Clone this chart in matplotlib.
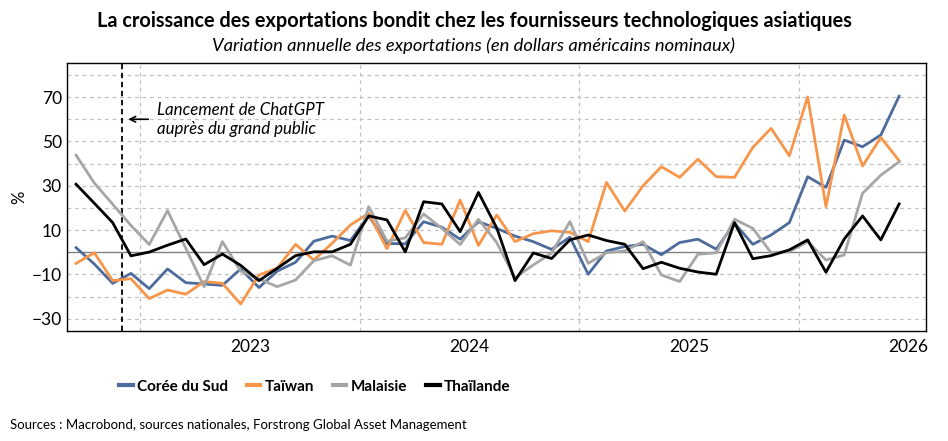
import matplotlib
matplotlib.use("Agg")
import matplotlib.pyplot as plt
import numpy as np

# monthly y/y export growth, % (46 months)
coree = [2.1, -5.3, -14.0, -9.5, -16.4, -7.5, -13.7, -14.3, -14.9, -7.5,
         -15.9, -8.5, -4.5, 5.0, 7.3, 5.3, 16.5, 4.0, 3.8, 13.8,
         11.3, 5.9, 13.8, 10.8, 7.3, 4.8, 1.3, 6.8, -9.9, 0.6,
         2.6, 3.6, -1.1, 4.4, 5.9, 1.4, 13.1, 3.6, 7.8, 13.4,
         34.1, 29.3, 50.6, 47.6, 52.9, 70.4]
taiwan = [-5.0, -0.2, -12.8, -11.9, -20.9, -17.0, -18.9, -13.2, -14.0, -23.3,
          -10.2, -7.2, 3.6, -3.5, 4.1, 12.3, 17.6, 1.6, 18.9, 4.4,
          3.6, 23.6, 3.1, 16.8, 4.8, 8.4, 9.7, 9.0, 4.8, 31.5,
          18.6, 30.0, 38.6, 33.8, 42.0, 34.1, 33.8, 47.3, 55.9, 43.5,
          70.1, 20.6, 61.9, 38.9, 51.8, 41.3]
malaisie = [43.8, 31.2, 21.7, 12.1, 3.5, 18.8, 1.8, -15.5, 4.8, -8.5,
            -12.0, -15.5, -12.5, -3.8, -1.6, -5.8, 20.6, 5.0, 6.5, 17.3,
            10.8, 3.5, 14.9, 4.4, -11.5, -5.7, -0.3, 13.8, -5.0, -0.2,
            0.6, 4.8, -10.2, -13.2, -0.9, -0.2, 14.9, 10.8, -0.2, 0.3,
            4.8, -3.5, -1.2, 26.6, 34.8, 40.8]
thailande = [30.7, 22.1, 13.4, -1.6, 0.1, 3.2, 6.0, -5.6, -0.8, -5.9,
             -12.8, -7.2, -1.5, 0.2, 0.2, 3.6, 16.4, 14.6, 0.2, 22.8,
             21.8, 9.3, 27.0, 11.0, -12.8, -0.3, -2.8, 5.6, 7.8, 5.3,
             3.6, -7.4, -4.5, -7.2, -8.9, -9.9, 13.4, -2.9, -1.5, 1.1,
             5.6, -9.0, 6.0, 16.4, 5.6, 21.8]

series = [("Corée du Sud", coree, "#4d6b9c"),
          ("Taïwan", taiwan, "#f7964b"),
          ("Malaisie", malaisie, "#a6a6a6"),
          ("Thaïlande", thailande, "#000000")]

years = ["2023", "2024", "2025", "2026"]
year_pos = [9.5, 21.5, 33.5, 45.5]
grid_pos = [3.5, 15.5, 27.5, 39.5]
chatgpt_pos = 2.5

plt.rcParams["font.family"] = ["Lato", "DejaVu Sans"]

fig = plt.figure(figsize=(9.48, 4.41), dpi=100)
ax = fig.add_axes([0.0704, 0.2494, 0.9064, 0.6084])

x = np.arange(len(coree))
for name, vals, col in series:
    ax.plot(x, vals, color=col, lw=2.0, label=name, zorder=3)

ax.set_xlim(-0.51, 46.47)
ax.set_ylim(-35.5, 85.5)

for yv in range(-30, 90, 10):
    if yv == 0:
        ax.axhline(0, color="#808080", lw=1.0, zorder=1)
    else:
        ax.axhline(yv, color="#c0c0c0", lw=0.9, ls=(0, (3, 3)), zorder=1)
for xv in grid_pos:
    ax.axvline(xv, color="#c0c0c0", lw=0.9, ls=(0, (3, 3)), zorder=1)

ax.axvline(chatgpt_pos, color="black", lw=1.3, ls=(0, (3, 2)), zorder=2)
ax.annotate("", xy=(chatgpt_pos + 0.2, 60), xytext=(chatgpt_pos + 1.6, 60),
            arrowprops=dict(arrowstyle="->", color="black", lw=1.2))
ax.text(chatgpt_pos + 1.95, 60, "Lancement de ChatGPT\nauprès du grand public",
        fontsize=12.2, style="italic", va="center", ha="left", linespacing=1.2)

ax.set_yticks([-30, -10, 10, 30, 50, 70])
ax.set_xticks(year_pos)
ax.set_xticklabels(years)
ax.tick_params(axis="both", length=0, labelsize=12.5)
ax.tick_params(axis="x", pad=6)
ax.set_ylabel("%", fontsize=12, labelpad=3)
for s in ax.spines.values():
    s.set_color("black")
    s.set_linewidth(1.0)

fig.text(0.5, 0.952, "La croissance des exportations bondit chez les fournisseurs technologiques asiatiques",
         ha="center", va="center", fontsize=14.3, fontweight="bold")
fig.text(0.5, 0.897, "Variation annuelle des exportations (en dollars américains nominaux)",
         ha="center", va="center", fontsize=13.2, style="italic")

leg = fig.legend(loc="center", bbox_to_anchor=(0.332, 0.123), ncol=4, frameon=False,
                 handlelength=0.9, handletextpad=0.3, columnspacing=1.2,
                 prop={"weight": "bold", "size": 11})
for h in leg.legend_handles:
    h.set_linewidth(3)

fig.text(0.011, 0.037, "Sources : Macrobond, sources nationales, Forstrong Global Asset Management",
         ha="left", va="center", fontsize=9.5)

fig.savefig("out.png", dpi=100)
